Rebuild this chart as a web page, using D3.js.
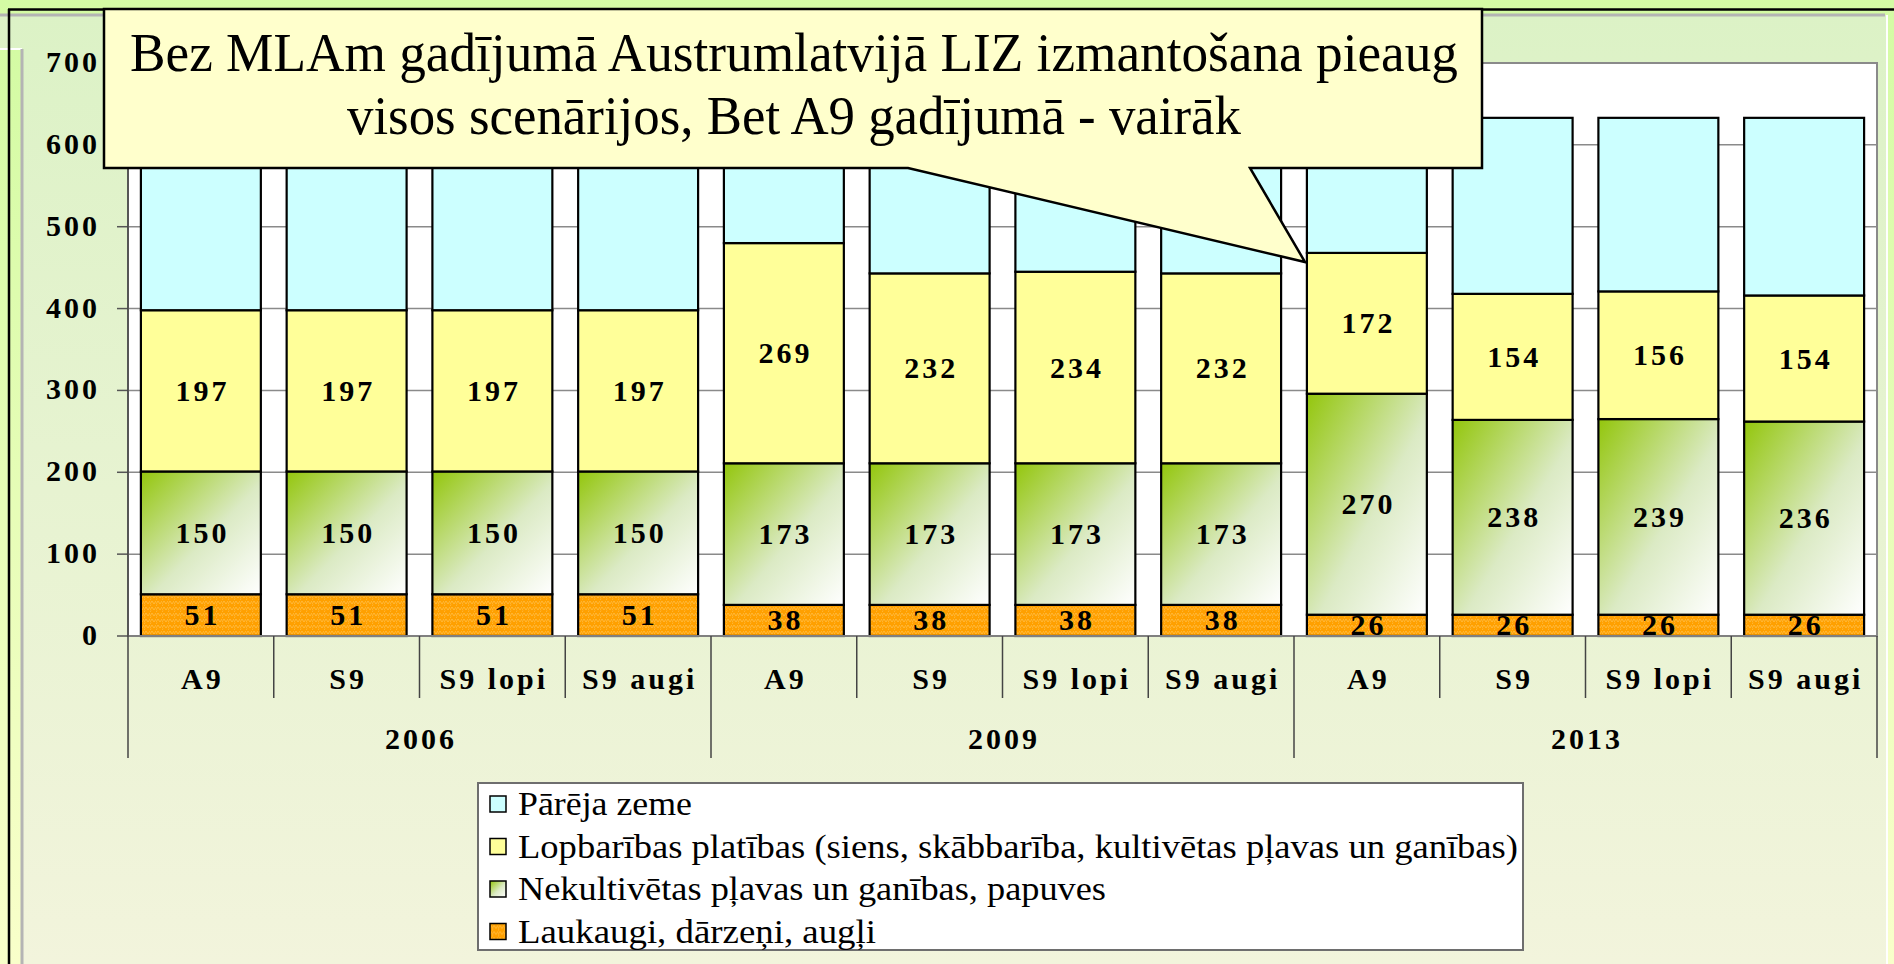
<!DOCTYPE html>
<html>
<head>
<meta charset="utf-8">
<script src="https://cdn.jsdelivr.net/npm/d3@7"></script>
<style>
body { margin: 0; background: #fff; }
svg { display: block; }
</style>
</head>
<body>
<svg id="chart"></svg>
<script>
// data
var scenarios = ["A9", "S9", "S9 lopi", "S9 augi", "A9", "S9", "S9 lopi", "S9 augi", "A9", "S9", "S9 lopi", "S9 augi"]
var years = ["2006", "2009", "2013"]
var laukaugi   = [51, 51, 51, 51, 38, 38, 38, 38, 26, 26, 26, 26]
var nekult     = [150, 150, 150, 150, 173, 173, 173, 173, 270, 238, 239, 236]
var lopbaribas = [197, 197, 197, 197, 269, 232, 234, 232, 172, 154, 156, 154]
var pareja     = [235, 235, 235, 235, 153, 190, 188, 190, 165, 215, 212, 217]
var legendNames = ["Pārēja zeme",
                   "Lopbarības platības (siens, skābbarība, kultivētas pļavas un ganības)",
                   "Nekultivētas pļavas un ganības, papuves",
                   "Laukaugi, dārzeņi, augļi"]
var yTicks = [0, 100, 200, 300, 400, 500, 600, 700]
var calloutLines = ["Bez MLAm gadījumā Austrumlatvijā LIZ izmantošana pieaug",
                    "visos scenārijos, Bet A9 gadījumā - vairāk"]

var width = 1894
var height = 964
var serif = "'Liberation Serif', 'Times New Roman', serif"

var svg = d3.select("#chart")
  .attr("width", width)
  .attr("height", height)

var defs = svg.append("defs")

var bgGrad = defs.append("linearGradient").attr("id", "pageBg")
  .attr("x1", 0).attr("y1", 0).attr("x2", 0).attr("y2", 1)
bgGrad.append("stop").attr("offset", 0).attr("stop-color", "#d4fba4")
bgGrad.append("stop").attr("offset", 1).attr("stop-color", "#f9ffca")

var areaGrad = defs.append("linearGradient").attr("id", "areaBg")
  .attr("x1", 0).attr("y1", 0).attr("x2", 0).attr("y2", 1)
areaGrad.append("stop").attr("offset", 0).attr("stop-color", "#dcf2c6")
areaGrad.append("stop").attr("offset", 1).attr("stop-color", "#f2f4dc")

var greenGrad = defs.append("linearGradient").attr("id", "greenFill")
  .attr("x1", 0).attr("y1", 0).attr("x2", 1).attr("y2", 1)
greenGrad.append("stop").attr("offset", 0).attr("stop-color", "#93c60c")
greenGrad.append("stop").attr("offset", 0.55).attr("stop-color", "#dbeac4")
greenGrad.append("stop").attr("offset", 1).attr("stop-color", "#ffffff")

var orange = defs.append("pattern").attr("id", "orangeFill")
  .attr("patternUnits", "userSpaceOnUse").attr("width", 6).attr("height", 6)
orange.append("rect").attr("width", 6).attr("height", 6).attr("fill", "#ffa000")
orange.append("path").attr("d", "M0,4 L2,1 L4,4 L6,1 M0,6 L1,4.5")
  .attr("fill", "none").attr("stroke", "#ffb93a").attr("stroke-width", 1)

// page background and slide frame
svg.append("rect").attr("width", width).attr("height", height).attr("fill", "url(#pageBg)")
svg.append("rect").attr("x", 0).attr("y", 15).attr("width", 1887).attr("height", height - 15)
  .attr("fill", "url(#areaBg)")
svg.append("rect").attr("x", 0).attr("y", 50).attr("width", 22).attr("height", height - 50)
  .attr("fill", "url(#pageBg)")
svg.append("line").attr("x1", 0).attr("x2", 22).attr("y1", 49).attr("y2", 49)
  .attr("stroke", "#ffffff").attr("stroke-width", 2)
svg.append("line").attr("x1", 0).attr("x2", 1885).attr("y1", 15).attr("y2", 15)
  .attr("stroke", "#b4b4b4").attr("stroke-width", 3)
svg.append("line").attr("x1", 22).attr("x2", 22).attr("y1", 49).attr("y2", height)
  .attr("stroke", "#b4b4b4").attr("stroke-width", 3)
svg.append("line").attr("x1", 1887).attr("x2", 1887).attr("y1", 15).attr("y2", height)
  .attr("stroke", "#ffffff").attr("stroke-width", 2)
svg.append("line").attr("x1", 8).attr("x2", width).attr("y1", 9.5).attr("y2", 9.5)
  .attr("stroke", "#000").attr("stroke-width", 2.5)
svg.append("line").attr("x1", 9).attr("x2", 9).attr("y1", 9).attr("y2", height)
  .attr("stroke", "#000").attr("stroke-width", 2.5)

// scales
var plotLeft = 128, plotRight = 1877, plotTop = 63, plotBottom = 636
var xScale = d3.scaleBand()
  .domain(d3.range(scenarios.length))
  .range([plotLeft, plotRight])
  .paddingInner(0.177)
  .paddingOuter(0.0885)
var yScale = d3.scaleLinear().domain([0, 700]).range([plotBottom, plotTop])

svg.append("rect").attr("x", plotLeft).attr("y", plotTop)
  .attr("width", plotRight - plotLeft).attr("height", plotBottom - plotTop)
  .attr("fill", "#fff").attr("stroke", "#8a8a8a").attr("stroke-width", 2)

svg.append("g").selectAll("line").data(yTicks.filter(function(d) { return d > 0 && d < 700 }))
  .enter().append("line")
  .attr("x1", plotLeft).attr("x2", plotRight)
  .attr("y1", function(d) { return yScale(d) }).attr("y2", function(d) { return yScale(d) })
  .attr("stroke", "#8a8a8a").attr("stroke-width", 1.5)

// stacked bars
var rows = scenarios.map(function(s, i) {
  return {i: i, laukaugi: laukaugi[i], nekult: nekult[i], lopbaribas: lopbaribas[i], pareja: pareja[i]}
})
var keys = ["laukaugi", "nekult", "lopbaribas", "pareja"]
var fills = {laukaugi: "url(#orangeFill)", nekult: "url(#greenFill)", lopbaribas: "#ffff99", pareja: "#ccffff"}
var stacked = d3.stack().keys(keys)(rows)

var layers = svg.append("g").selectAll("g").data(stacked).enter().append("g")
  .attr("fill", function(d) { return fills[d.key] })
layers.selectAll("rect").data(function(d) { return d }).enter().append("rect")
  .attr("x", function(d) { return xScale(d.data.i) })
  .attr("width", xScale.bandwidth())
  .attr("y", function(d) { return yScale(d[1]) })
  .attr("height", function(d) { return yScale(d[0]) - yScale(d[1]) })
  .attr("stroke", "#000").attr("stroke-width", 2.2)

// value labels (no labels for the top series)
var labelled = stacked.filter(function(d) { return d.key != "pareja" })
svg.append("g").selectAll("g").data(labelled).enter().append("g")
  .selectAll("text").data(function(d) { return d }).enter().append("text")
  .attr("x", function(d) { return xScale(d.data.i) + xScale.bandwidth() / 2 + 1.5 })
  .attr("y", function(d) { return (yScale(d[0]) + yScale(d[1])) / 2 + 10 })
  .attr("text-anchor", "middle")
  .attr("font-family", serif).attr("font-weight", "bold").attr("font-size", 30)
  .attr("letter-spacing", 3)
  .text(function(d) { return d[1] - d[0] })

// axes
svg.append("line").attr("x1", plotLeft).attr("x2", plotRight).attr("y1", plotBottom).attr("y2", plotBottom)
  .attr("stroke", "#808080").attr("stroke-width", 2)
svg.append("g").selectAll("line").data(yTicks).enter().append("line")
  .attr("x1", 117).attr("x2", plotLeft)
  .attr("y1", function(d) { return yScale(d) }).attr("y2", function(d) { return yScale(d) })
  .attr("stroke", "#555").attr("stroke-width", 1.5)
svg.append("g").selectAll("text").data(yTicks).enter().append("text")
  .attr("x", 100).attr("y", function(d) { return yScale(d) + 9 })
  .attr("text-anchor", "end")
  .attr("font-family", serif).attr("font-weight", "bold").attr("font-size", 30)
  .attr("letter-spacing", 3)
  .text(function(d) { return d })

var step = xScale.step()
svg.append("g").selectAll("line").data(d3.range(scenarios.length + 1)).enter().append("line")
  .attr("x1", function(i) { return plotLeft + i * step }).attr("x2", function(i) { return plotLeft + i * step })
  .attr("y1", function(i) { return i == 0 ? plotTop : plotBottom })
  .attr("y2", function(i) { return i % 4 == 0 ? 758 : 698 })
  .attr("stroke", "#444").attr("stroke-width", 1.5)

svg.append("g").selectAll("text").data(scenarios).enter().append("text")
  .attr("x", function(d, i) { return xScale(i) + xScale.bandwidth() / 2 + 1.5 })
  .attr("y", 689)
  .attr("text-anchor", "middle")
  .attr("font-family", serif).attr("font-weight", "bold").attr("font-size", 30)
  .attr("letter-spacing", 3)
  .text(function(d) { return d })

svg.append("g").selectAll("text").data(years).enter().append("text")
  .attr("x", function(d, i) { return plotLeft + (i * 4 + 2) * step + 1.5 })
  .attr("y", 749)
  .attr("text-anchor", "middle")
  .attr("font-family", serif).attr("font-weight", "bold").attr("font-size", 30)
  .attr("letter-spacing", 3)
  .text(function(d) { return d })

// legend
var legendFills = ["#ccffff", "#ffff99", "url(#greenFill)", "url(#orangeFill)"]
var legendWidths = [174, 1000, 588, 358]
svg.append("rect").attr("x", 478).attr("y", 783).attr("width", 1045).attr("height", 167)
  .attr("fill", "#fff").attr("stroke", "#6e6e6e").attr("stroke-width", 2)
var items = svg.append("g").selectAll("g").data(legendNames).enter().append("g")
  .attr("transform", function(d, i) { return "translate(0," + (815 + i * 42.5) + ")" })
items.append("rect").attr("x", 490).attr("y", -19).attr("width", 16).attr("height", 16)
  .attr("fill", function(d, i) { return legendFills[i] })
  .attr("stroke", "#000").attr("stroke-width", 1.5)
items.append("text").attr("x", 518).attr("y", 0)
  .attr("font-family", serif).attr("font-size", 33)
  .attr("textLength", function(d, i) { return legendWidths[i] })
  .attr("lengthAdjust", "spacingAndGlyphs")
  .text(function(d) { return d })

// callout
var box = {left: 104, right: 1482, top: 9, bottom: 168}
var pointer = [[1250, 168], [1305, 262], [908, 168]]
var calloutPath = d3.path()
calloutPath.moveTo(box.left, box.top)
calloutPath.lineTo(box.right, box.top)
calloutPath.lineTo(box.right, box.bottom)
pointer.forEach(function(p) { calloutPath.lineTo(p[0], p[1]) })
calloutPath.lineTo(box.left, box.bottom)
calloutPath.closePath()
svg.append("path").attr("d", calloutPath.toString())
  .attr("fill", "#ffffcc").attr("stroke", "#000").attr("stroke-width", 2.5)
  .attr("stroke-linejoin", "miter")

var calloutWidths = [1328, 894]
svg.append("g").selectAll("text").data(calloutLines).enter().append("text")
  .attr("x", 794).attr("y", function(d, i) { return 71 + i * 63 })
  .attr("text-anchor", "middle")
  .attr("font-family", serif).attr("font-size", 55)
  .attr("textLength", function(d, i) { return calloutWidths[i] })
  .attr("lengthAdjust", "spacingAndGlyphs")
  .text(function(d) { return d })
</script>
</body>
</html>
